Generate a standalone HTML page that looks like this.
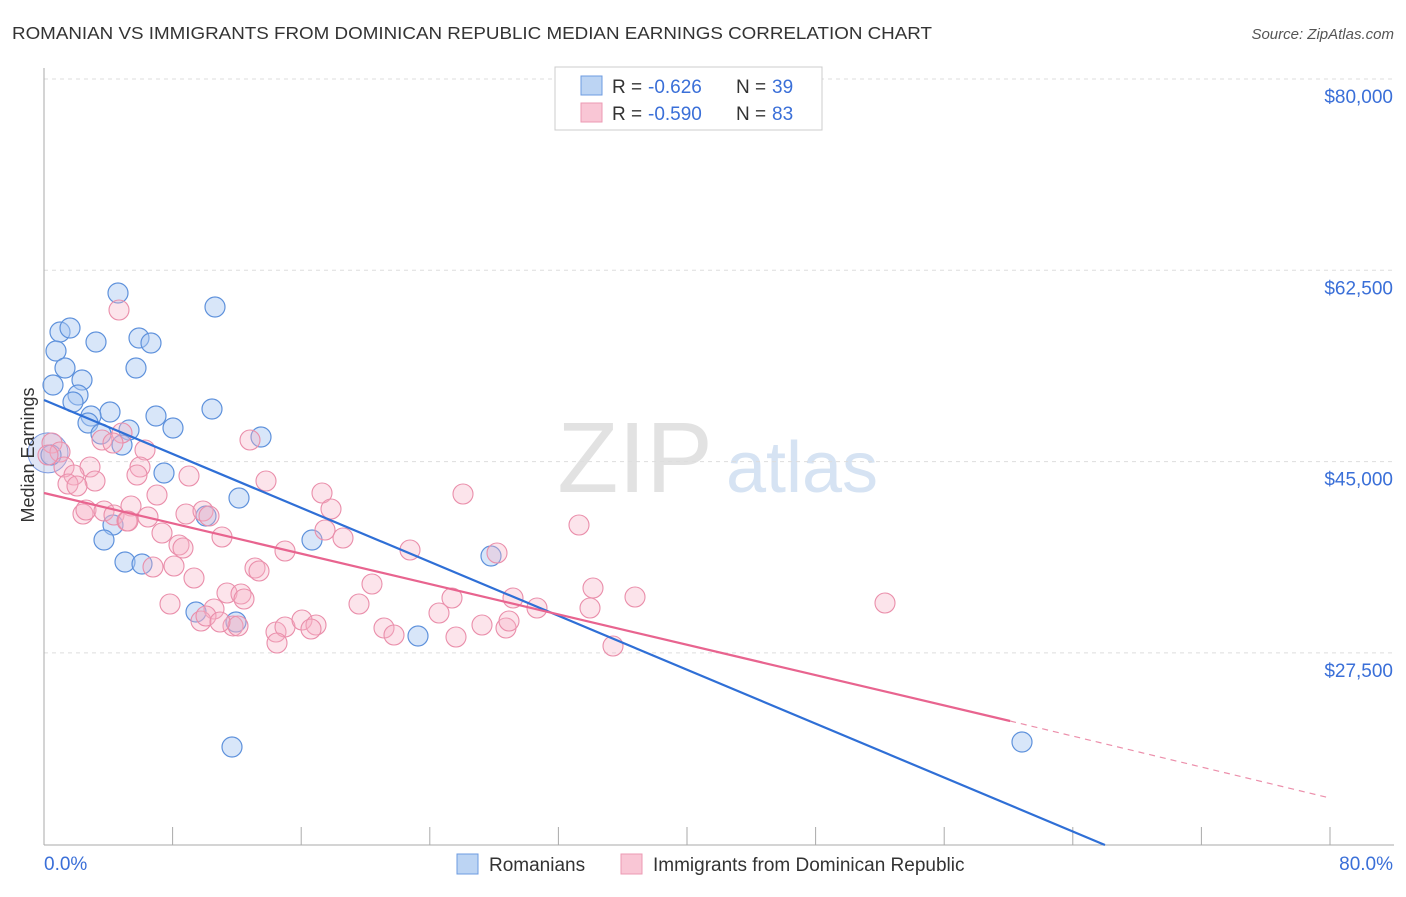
<!DOCTYPE html>
<html><head><meta charset="utf-8"><style>
body{margin:0;background:#fff;font-family:"Liberation Sans",sans-serif}
svg text{font-family:"Liberation Sans",sans-serif}
</style></head><body>
<svg id="c" width="1406" height="892" viewBox="0 0 1406 892" xmlns="http://www.w3.org/2000/svg">
<text x="12" y="39" font-size="17.5" fill="#333" textLength="920" lengthAdjust="spacingAndGlyphs">ROMANIAN VS IMMIGRANTS FROM DOMINICAN REPUBLIC MEDIAN EARNINGS CORRELATION CHART</text>
<text x="1394" y="39" font-size="15" fill="#555" font-style="italic" text-anchor="end">Source: ZipAtlas.com</text>
<text x="635" y="492" font-size="100" fill="#e2e2e2" font-family="Liberation Serif" text-anchor="middle">ZIP</text>
<text x="802" y="492" font-size="72" fill="#d6e3f3" text-anchor="middle">atlas</text>
<g id="grid"></g>
<g id="axes"></g>
<g id="pts"></g>
<g id="lines"></g>
<text transform="translate(34,455) rotate(-90)" font-size="18" fill="#333" text-anchor="middle">Median Earnings</text>
<g>
<rect x="555" y="67" width="267" height="63" fill="#fff" stroke="#ccc"/>
<rect x="581" y="76" width="21" height="19" fill="#bcd4f3" stroke="#6d9be0"/>
<rect x="581" y="103" width="21" height="19" fill="#f9c6d5" stroke="#ec9ab3"/>
<text x="612" y="93" font-size="19" fill="#333">R =</text>
<text x="648" y="93" font-size="19" fill="#3a6fd8">-0.626</text>
<text x="736" y="93" font-size="19" fill="#333">N =</text>
<text x="772" y="93" font-size="19" fill="#3a6fd8">39</text>
<text x="612" y="120" font-size="19" fill="#333">R =</text>
<text x="648" y="120" font-size="19" fill="#3a6fd8">-0.590</text>
<text x="736" y="120" font-size="19" fill="#333">N =</text>
<text x="772" y="120" font-size="19" fill="#3a6fd8">83</text>
</g>
<g>
<rect x="457" y="854" width="21" height="20" fill="#bcd4f3" stroke="#6d9be0"/>
<text x="489" y="871" font-size="19" fill="#333">Romanians</text>
<rect x="621" y="854" width="21" height="20" fill="#f9c6d5" stroke="#ec9ab3"/>
<text x="653" y="871" font-size="19" fill="#333">Immigrants from Dominican Republic</text>
</g>
</svg>
<script>
const yTicks=[80000,62500,45000,27500];
const yTickLabels=["$80,000","$62,500","$45,000","$27,500"];
const xTickVals=[0,8,16,24,32,40,48,56,64,72,80];
const xLabels=["0.0%","80.0%"];
const bluePx=[[118,293],[215,307],[60,332],[70,328],[56,351],[96,342],[139,338],[151,343],[65,368],[136,368],[82,380],[53,385],[78,395],[73,402],[110,412],[91,416],[156,416],[212,409],[88,423],[129,430],[101,434],[173,428],[261,437],[122,445],[51,455],[164,473],[239,498],[206,516],[113,525],[104,540],[312,540],[491,556],[125,562],[142,564],[196,612],[236,622],[418,636],[232,747],[1022,742]];
const pinkPx=[[119,310],[52,443],[60,452],[64,467],[48,455],[122,433],[102,440],[113,443],[145,450],[90,467],[74,475],[68,484],[95,481],[77,486],[140,467],[137,475],[189,476],[266,481],[250,440],[157,495],[131,506],[83,514],[86,510],[104,511],[114,515],[127,521],[148,517],[186,514],[203,511],[209,516],[322,493],[331,509],[463,494],[128,521],[162,533],[179,545],[183,548],[222,537],[285,551],[325,530],[343,538],[410,550],[497,553],[579,525],[153,567],[174,566],[194,578],[255,568],[259,571],[372,584],[452,598],[513,598],[593,588],[635,597],[885,603],[170,604],[214,609],[227,593],[241,594],[244,599],[359,604],[439,613],[537,608],[590,608],[201,621],[206,616],[233,626],[238,626],[276,632],[285,627],[302,620],[316,625],[311,629],[384,628],[394,635],[456,637],[482,625],[506,628],[509,621],[277,643],[613,646],[220,622]];
const blueX=bluePx.map(p=>(p[0]-44)/1286*80), blueY=bluePx.map(p=>80000-(p[1]-79)/191.3*17500);
const pinkX=pinkPx.map(p=>(p[0]-44)/1286*80), pinkY=pinkPx.map(p=>80000-(p[1]-79)/191.3*17500);
const blueTrend=[[0,50635],[66.0,9927]];
const pinkTrend=[[0,42127],[60.1,21270]];
const pinkTrendDash=[[60.1,21270],[80,14226]];
const sx=v=>44+v/80*1286, sy=v=>79+(80000-v)/17500*191.3;
const NS="http://www.w3.org/2000/svg";
function mk(tag,attrs,parent){const e=document.createElementNS(NS,tag);for(const k in attrs)e.setAttribute(k,attrs[k]);document.getElementById(parent).appendChild(e);return e;}
yTicks.forEach((v,i)=>{
 const l=mk('line',{x1:44,x2:1394,y1:sy(v),y2:sy(v),stroke:'#ddd','stroke-dasharray':'4,4'},'grid');
 
 
 const t=mk('text',{x:1393,y:sy(v)+24,'font-size':19,fill:'#3a6fd8','text-anchor':'end'},'grid');t.textContent=yTickLabels[i];
 
 
});
const ya=mk('line',{x1:44,x2:44,y1:68,y2:845,stroke:'#aaa'},'axes');


const xa=mk('line',{x1:44,x2:1394,y1:845,y2:845,stroke:'#aaa'},'axes');


xTickVals.forEach(v=>{const t=mk('line',{x1:sx(v),x2:sx(v),y1:827,y2:845,stroke:'#aaa'},'axes');
 
 });
const xl0=mk('text',{x:44,y:870,'font-size':19,fill:'#3a6fd8'},'axes');xl0.textContent=xLabels[0];


const xl1=mk('text',{x:1393,y:870,'font-size':19,fill:'#3a6fd8','text-anchor':'end'},'axes');xl1.textContent=xLabels[1];


const big=mk('circle',{cx:sx(0.25),cy:sy(45800),r:20,fill:'#b9c6ea','fill-opacity':0.45,stroke:'#7d9be0'},'pts');


blueX.forEach((x,i)=>{const c=mk('circle',{cx:sx(x),cy:sy(blueY[i]),r:10,fill:'#a9c7f1','fill-opacity':0.45,stroke:'#5f92dc','stroke-width':1.2},'pts');
 
 });
pinkX.forEach((x,i)=>{const c=mk('circle',{cx:sx(x),cy:sy(pinkY[i]),r:10,fill:'#f6b3c6','fill-opacity':0.35,stroke:'#ea8fab','stroke-width':1.1},'pts');
 
 });
const bl=mk('line',{x1:sx(blueTrend[0][0]),y1:sy(blueTrend[0][1]),x2:sx(blueTrend[1][0]),y2:sy(blueTrend[1][1]),stroke:'#2f6fd6','stroke-width':2.2},'lines');


const pl=mk('line',{x1:sx(pinkTrend[0][0]),y1:sy(pinkTrend[0][1]),x2:sx(pinkTrend[1][0]),y2:sy(pinkTrend[1][1]),stroke:'#e8648f','stroke-width':2.2},'lines');


const pd=mk('line',{x1:sx(pinkTrendDash[0][0]),y1:sy(pinkTrendDash[0][1]),x2:sx(pinkTrendDash[1][0]),y2:sy(pinkTrendDash[1][1]),stroke:'#ec8fab','stroke-width':1.2,'stroke-dasharray':'6,5'},'lines');


</script>
</body></html>
